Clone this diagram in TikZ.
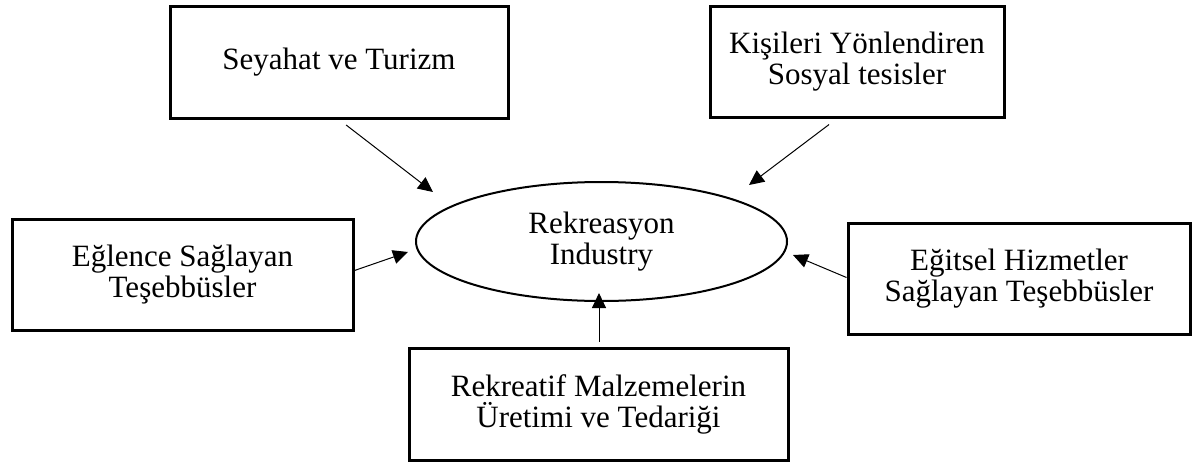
\documentclass[tikz,border=0pt]{standalone}
\usepackage{fontspec}
\setmainfont{Liberation Serif}
\usetikzlibrary{arrows.meta,shapes.geometric}

\begin{document}
\begin{tikzpicture}[
  x=0.5pt, y=-0.5pt,
  font=\fontsize{15.5}{15.5}\selectfont,
  box/.style={draw, line width=1.5pt, rectangle, align=center, inner sep=0pt},
  hub/.style={draw, line width=1pt, ellipse, align=center, inner sep=0pt, minimum width=185.5pt, minimum height=59.5pt},
  arr/.style={-{Triangle[length=7.5pt,width=7pt]}, line width=0.5pt}
]
\useasboundingbox (0,0) rectangle (1198,461);
% centre
\node[hub] (hub) at (601.5,241.5) {Rekreasyon\\ Industry};
% surrounding boxes
\node[box, minimum width=169pt, minimum height=56pt] (seyahat) at (339,62) {Seyahat ve Turizm};
\node[box, minimum width=147pt, minimum height=55.5pt] (kisi) at (857,61.5) {Kişileri Yönlendiren\\ Sosyal tesisler};
\node[box, minimum width=170.5pt, minimum height=55.5pt] (eglence) at (182.5,274.5) {Eğlence Sağlayan\\ Teşebbüsler};
\node[box, minimum width=171pt, minimum height=55.5pt] (egitsel) at (1019,278.5) {Eğitsel Hizmetler\\ Sağlayan Teşebbüsler};
\node[box, minimum width=189.5pt, minimum height=56pt] (malzeme) at (598.5,404) {Rekreatif Malzemelerin\\ Üretimi ve Tedariği};
% arrow tips
\coordinate (t1) at (433,192);
\coordinate (t2) at (749,185);
\coordinate (t3) at (408,252);
\coordinate (t4) at (793,255);
\coordinate (t5) at (599,293);
\draw[arr, shorten <=4.5pt] (seyahat.south) -- (t1);
\draw[arr, shorten <=5pt] ([xshift=-10pt]kisi.south) -- (t2);
\draw[arr] ([yshift=2pt]eglence.east) -- (t3);
\draw[arr] ([yshift=0.5pt]egitsel.west) -- (t4);
\draw[arr, shorten <=2.5pt] ([xshift=0.25pt]malzeme.north) -- (t5);
\end{tikzpicture}
\end{document}
